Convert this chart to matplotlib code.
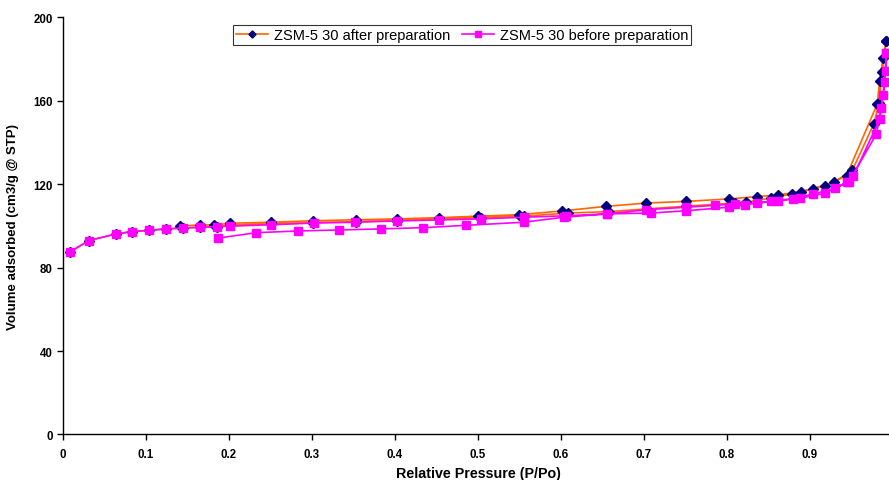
import matplotlib
matplotlib.use("Agg")
import matplotlib.pyplot as plt

plt.rcParams['font.family'] = ['Liberation Sans', 'DejaVu Sans']

# ZSM-5 30 after preparation: adsorption then desorption branch
after_ads_p = [0.009, 0.031, 0.064, 0.083, 0.103, 0.124, 0.144, 0.165, 0.185, 0.201,
               0.251, 0.301, 0.353, 0.402, 0.453, 0.504, 0.555, 0.608, 0.658, 0.704,
               0.751, 0.810, 0.823, 0.853, 0.878, 0.904, 0.929, 0.951, 0.977, 0.983,
               0.987, 0.992]
after_ads_v = [87.7, 93.0, 96.2, 97.3, 97.9, 98.6, 99.0, 99.4, 99.7, 100.4,
               101.0, 101.6, 102.1, 102.6, 103.2, 104.0, 104.7, 106.2, 106.9, 108.2,
               109.5, 111.0, 111.4, 113.4, 115.3, 117.9, 121.1, 126.7, 149.1, 158.8,
               173.9, 188.6]
after_des_p = [0.992, 0.988, 0.984, 0.981, 0.944, 0.918, 0.889, 0.862, 0.836, 0.803,
               0.751, 0.703, 0.654, 0.601, 0.549, 0.500, 0.453, 0.402, 0.353, 0.301,
               0.251, 0.201, 0.182, 0.165, 0.141]
after_des_v = [188.6, 180.7, 169.7, 158.5, 124.1, 119.2, 116.5, 114.9, 114.1, 113.0,
               111.8, 111.0, 109.4, 107.2, 105.4, 104.7, 104.0, 103.4, 103.0, 102.5,
               101.8, 101.3, 100.5, 100.5, 100.0]

# ZSM-5 30 before preparation
before_ads_p = [0.009, 0.031, 0.064, 0.083, 0.103, 0.124, 0.144, 0.165, 0.185, 0.201,
                0.251, 0.302, 0.352, 0.402, 0.453, 0.504, 0.555, 0.606, 0.656, 0.708,
                0.751, 0.802, 0.822, 0.853, 0.879, 0.904, 0.930, 0.947, 0.980, 0.986,
                0.990, 0.992]
before_ads_v = [87.7, 93.0, 96.2, 97.3, 97.9, 98.6, 99.0, 99.4, 99.7, 99.9,
                100.6, 101.4, 101.8, 102.4, 102.9, 103.4, 104.2, 104.9, 105.8, 106.2,
                107.3, 109.0, 110.2, 111.8, 113.1, 115.3, 118.2, 121.3, 144.1, 156.5,
                168.9, 182.8]
before_des_p = [0.992, 0.991, 0.988, 0.984, 0.952, 0.945, 0.918, 0.888, 0.862, 0.836,
                0.810, 0.785, 0.751, 0.703, 0.656, 0.603, 0.555, 0.485, 0.434, 0.383,
                0.333, 0.283, 0.233, 0.187]
before_des_v = [182.8, 174.2, 163.0, 151.3, 123.8, 121.0, 115.7, 113.3, 112.1, 111.0,
                110.6, 109.9, 109.0, 107.8, 105.8, 104.2, 101.8, 100.3, 99.2, 98.6,
                98.1, 97.6, 96.8, 94.2]

after_p = after_ads_p + after_des_p
after_v = after_ads_v + after_des_v
before_p = before_ads_p + before_des_p
before_v = before_ads_v + before_des_v

fig = plt.figure(figsize=(8.89, 4.81), dpi=100)
ax = fig.add_axes([0.0709, 0.0946, 0.9336, 0.867])

ax.plot(after_p, after_v, color='#FF6600', lw=1.2, marker='D', ms=4.8,
        mfc='#000080', mec='#000080', label='ZSM-5 30 after preparation')
ax.plot(before_p, before_v, color='#FF00FF', lw=1.2, marker='s', ms=5.3,
        mfc='#FF00FF', mec='#FF00FF', label='ZSM-5 30 before preparation')

ax.set_xlim(0, 1.0)
ax.set_ylim(0, 200)
ax.set_xticks([0, 0.1, 0.2, 0.3, 0.4, 0.5, 0.6, 0.7, 0.8, 0.9])
ax.set_xticklabels(['0', '0.1', '0.2', '0.3', '0.4', '0.5', '0.6', '0.7', '0.8', '0.9'])
ax.set_yticks([0, 40, 80, 120, 160, 200])

for s in ['top', 'right']:
    ax.spines[s].set_visible(False)
for s in ['left', 'bottom']:
    ax.spines[s].set_linewidth(1.0)

ax.tick_params(axis='both', direction='out', length=4, width=1, labelsize=8.3)
for lbl in ax.get_xticklabels() + ax.get_yticklabels():
    lbl.set_fontweight('bold')
ax.tick_params(axis='x', pad=6)

ax.set_xlabel('Relative Pressure (P/Po)', fontsize=10.3, fontweight='bold', labelpad=4)
ax.set_ylabel('Volume adsorbed (cm3/g @ STP)', fontsize=9.5, fontweight='bold', labelpad=10)

leg = ax.legend(loc='center', bbox_to_anchor=(0.520, 0.9256), bbox_transform=fig.transFigure,
                ncol=2, fontsize=10.5, frameon=True, fancybox=False, borderpad=0.2,
                handlelength=2.2, handletextpad=0.4, columnspacing=0.8, borderaxespad=0,
                markerscale=0.75)
leg.get_frame().set_edgecolor('black')
leg.get_frame().set_linewidth(0.8)

fig.savefig('out.png', dpi=100)
